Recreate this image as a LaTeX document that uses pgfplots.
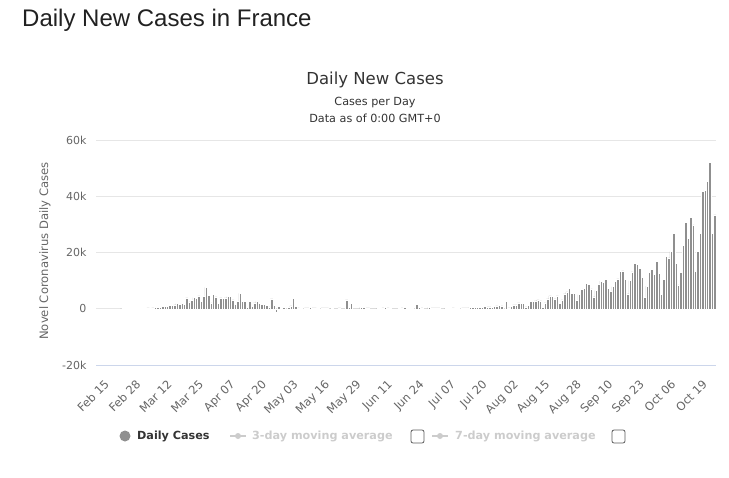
\documentclass[border=0pt]{standalone}
\usepackage{pgfplots}
\pgfplotsset{compat=1.18}
\usepackage{pgfplotstable}
\usepackage{fontspec}
\setmainfont{DejaVu Sans}
\newfontfamily\helv{Liberation Sans}
\definecolor{barcol}{RGB}{143,143,143}
\definecolor{gridc}{RGB}{230,230,230}
\definecolor{axc}{RGB}{204,214,235}
\definecolor{txt}{RGB}{102,102,102}
\definecolor{dark}{RGB}{51,51,51}
\definecolor{light}{RGB}{204,204,204}
\pgfplotstableread{
day val
10 2
11 4
12 20
13 19
14 43
15 30
16 61
17 21
18 73
19 138
20 190
21 336
22 177
23 286
24 372
25 497
26 595
27 785
28 838
29 924
30 1210
31 1097
32 1404
33 1861
34 1617
35 1847
36 1559
37 3838
38 2446
39 2931
40 3922
41 3809
42 4611
43 2599
44 4376
45 7578
46 4861
47 2116
48 5233
49 4267
50 1873
51 3912
52 3777
53 3881
54 4286
55 4342
56 3114
57 1613
58 2673
59 5497
60 2633
61 2641
62 405
63 2569
64 785
65 2051
66 2667
67 1827
68 1653
69 1537
70 1224
71 700
72 3500
73 1200
74 -1300
75 900
76 200
77 600
78 0
79 400
80 1000
81 3600
82 800
83 300
84 200
85 0
86 300
87 300
88 400
89 300
90 300
91 200
92 0
93 300
94 300
95 300
96 0
97 200
98 0
99 0
100 300
101 0
102 0
103 3200
104 400
105 1800
106 0
107 0
108 -500
109 600
110 400
111 300
112 300
113 0
114 0
115 0
116 200
117 200
118 300
119 400
120 300
121 200
122 0
123 0
124 0
125 200
126 300
127 500
128 200
129 200
130 200
131 0
132 1500
133 400
134 300
135 0
136 0
137 500
138 300
139 300
140 300
141 300
142 0
143 0
144 200
145 200
146 200
147 300
148 200
149 200
150 0
151 300
152 300
153 300
154 400
155 500
156 500
157 400
158 400
159 600
160 800
161 700
162 700
163 500
164 800
165 1000
166 1100
167 1000
168 -200
169 2500
170 300
171 800
172 1400
173 1400
174 2100
175 1800
176 1800
177 700
178 1200
179 2500
180 2500
181 2800
182 3200
183 2800
184 400
185 2100
186 3500
187 4600
188 4300
189 3500
190 4600
191 1900
192 3200
193 5300
194 6000
195 7379
196 5453
197 5413
198 3100
199 4982
200 7017
201 7157
202 8975
203 8550
204 7071
205 4203
206 6544
207 8577
208 9843
209 9406
210 10561
211 7183
212 6158
213 7852
214 9784
215 10593
216 13215
217 13498
218 10569
219 5298
220 10008
221 13072
222 16096
223 15797
224 14412
225 11123
226 4070
227 8051
228 12845
229 13970
230 12148
231 16972
232 12565
233 5084
234 10489
235 18746
236 18129
237 20339
238 26896
239 16101
240 8505
241 12993
242 22591
243 30621
244 25086
245 32427
246 29837
247 13243
248 20468
249 26676
250 41622
251 42032
252 45422
253 52010
254 26771
255 33417
}\cases
\begin{document}
\begin{tikzpicture}
\path[use as bounding box] (0,0) rectangle (729bp,-478bp);
% page title
\node[anchor=west, text=black!87, font=\helv\fontsize{24bp}{27bp}\selectfont, inner sep=0pt] at (22bp,-20bp) {Daily New Cases in France};
% chart title and subtitle
\node[text=dark, font=\fontsize{16.5bp}{19bp}\selectfont] at (375bp,-80bp) {Daily New Cases};
\node[text=dark, font=\fontsize{11.2bp}{13bp}\selectfont] at (375bp,-103bp) {Cases per Day};
\node[text=dark, font=\fontsize{11.2bp}{13bp}\selectfont] at (375bp,-118bp) {Data as of 0:00 GMT+0};
\begin{axis}[
  at={(96bp,-365bp)}, anchor=south west,
  scale only axis, width=620bp, height=225bp,
  xmin=-0.5, xmax=255.5, ymin=-20000, ymax=60000,
  axis x line*=bottom, axis y line*=left,
  x axis line style={draw=axc, line width=1bp},
  y axis line style={draw=none},
  scaled y ticks=false,
  ytick={-20000,0,20000,40000,60000},
  yticklabels={-20k,0,20k,40k,60k},
  ymajorgrids, grid style={draw=gridc, line width=1bp},
  major tick length=0pt,
  yticklabel style={text=txt, font=\fontsize{11bp}{13bp}\selectfont, anchor=east, xshift=-6bp},
  xtick={0,13,...,247},
  xticklabels={Feb 15,Feb 28,Mar 12,Mar 25,Apr 07,Apr 20,May 03,May 16,May 29,Jun 11,Jun 24,Jul 07,Jul 20,Aug 02,Aug 15,Aug 28,Sep 10,Sep 23,Oct 06,Oct 19},
  xticklabel style={text=txt, font=\fontsize{11.5bp}{13bp}\selectfont, rotate=45, anchor=north east, yshift=-11bp, xshift=-2bp},
  ybar, bar width=1,
  clip=false,
]
\addplot[fill=barcol, draw=white, line width=0.5bp] table[x=day, y=val] {\cases};
\end{axis}
% y axis title
\node[rotate=90, text=txt, font=\fontsize{11.6bp}{14bp}\selectfont] at (45bp,-251bp) {Novel Coronavirus Daily Cases};
% legend
\fill[barcol] (125bp,-436bp) circle (5.5bp);
\node[anchor=west, text=dark, font=\bfseries\fontsize{11.2bp}{13bp}\selectfont, inner sep=0pt] at (137bp,-436bp) {Daily Cases};
\draw[light, line width=2bp] (230bp,-436bp) -- (246bp,-436bp);
\fill[light] (238bp,-436bp) circle (3bp);
\node[anchor=west, text=light, font=\bfseries\fontsize{11.2bp}{13bp}\selectfont, inner sep=0pt] at (252bp,-436bp) {3-day moving average};
\draw[dark!80, line width=0.8bp, rounded corners=2bp] (411bp,-430bp) rectangle (424bp,-443bp);
\draw[light, line width=2bp] (432bp,-436bp) -- (448bp,-436bp);
\fill[light] (440bp,-436bp) circle (3bp);
\node[anchor=west, text=light, font=\bfseries\fontsize{11.2bp}{13bp}\selectfont, inner sep=0pt] at (455bp,-436bp) {7-day moving average};
\draw[dark!80, line width=0.8bp, rounded corners=2bp] (612bp,-430bp) rectangle (625bp,-443bp);
\end{tikzpicture}
\end{document}
